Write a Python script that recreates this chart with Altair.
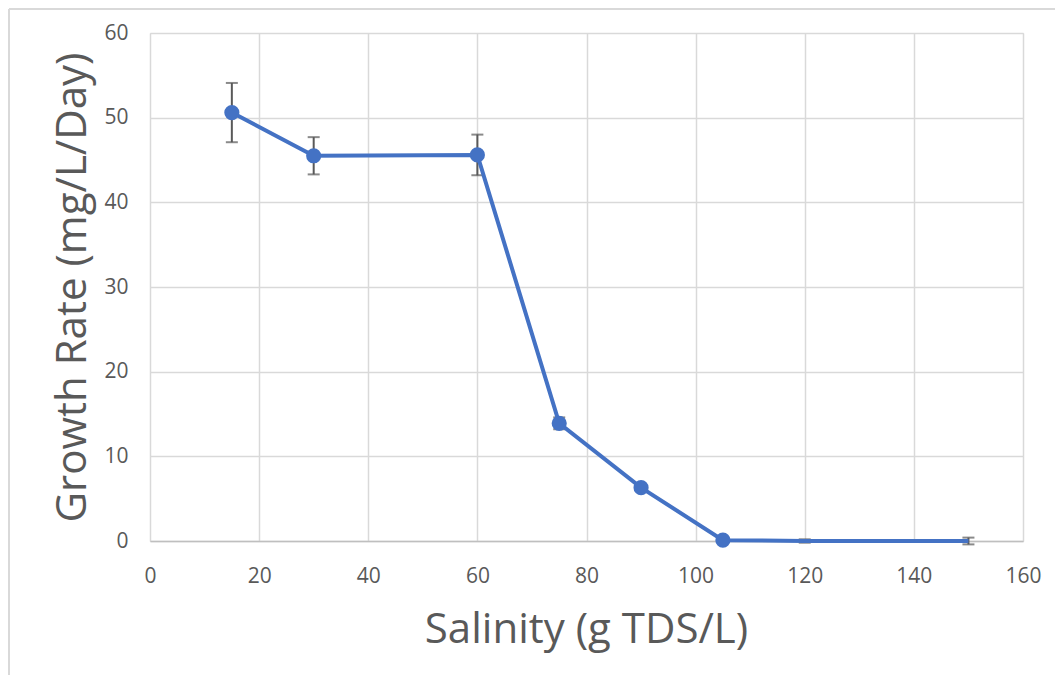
import altair as alt
import pandas as pd

salinity = [15, 30, 60, 75, 90, 105, 120, 150]
growth = [50.6, 45.5, 45.6, 13.9, 6.3, 0.1, 0.0, 0.0]
err = [3.5, 2.2, 2.4, 0.7, 0.0, 0.0, 0.2, 0.4]
marker = [True, True, True, True, True, True, False, False]

df = pd.DataFrame({"s": salinity, "g": growth, "e": err, "m": marker})
df["lo"] = df["g"] - df["e"]
df["hi"] = df["g"] + df["e"]

BLUE = "#4472C4"
FONT = "Open Sans"

xs = alt.Scale(domain=[0, 160], nice=False, zero=False)
ys = alt.Scale(domain=[0, 60], nice=False)

xax = alt.Axis(values=list(range(0, 161, 20)), title="Salinity (g TDS/L)",
               grid=True, gridColor="#d9d9d9", gridWidth=1.5, ticks=False,
               domain=True, domainColor="#bfbfbf", domainWidth=1.5, labelFlush=False,
               labelFont=FONT, labelFontSize=21, labelColor="#595959", labelPadding=24,
               titleFont=FONT, titleFontSize=42, titleFontWeight="normal", titleColor="#595959",
               titleX=436, titleY=88, titleAlign="center", titleBaseline="middle")
yax = alt.Axis(values=list(range(0, 61, 10)), title="Growth Rate (mg/L/Day)",
               grid=True, gridColor="#d9d9d9", gridWidth=1.5, ticks=False, domain=False,
               labelFlush=False,
               labelFont=FONT, labelFontSize=21, labelColor="#595959", labelPadding=22,
               titleFont=FONT, titleFontSize=42, titleFontWeight="normal", titleColor="#595959",
               titleX=-78, titleY=254, titleAlign="center", titleBaseline="middle", titleAngle=270)

base = alt.Chart(df)

frame_top = alt.Chart(pd.DataFrame({"a": [0]})).mark_rule(color="#d9d9d9", strokeWidth=2).encode(
    x=alt.value(-141), x2=alt.value(1200), y=alt.value(-24))
frame_left = alt.Chart(pd.DataFrame({"a": [0]})).mark_rule(color="#d9d9d9", strokeWidth=2).encode(
    x=alt.value(-141), y=alt.value(-24), y2=alt.value(800))

rules = base.mark_rule(color="#595959", strokeWidth=2).encode(
    x=alt.X("s:Q", scale=xs, axis=xax),
    y=alt.Y("lo:Q", scale=ys, axis=yax),
    y2="hi:Q",
).transform_filter("datum.e > 0")

caps_hi = base.mark_tick(color="#595959", thickness=2, size=12, orient="horizontal").encode(
    x=alt.X("s:Q", scale=xs), y=alt.Y("hi:Q", scale=ys)
).transform_filter("datum.e > 0")
caps_lo = base.mark_tick(color="#595959", thickness=2, size=12, orient="horizontal").encode(
    x=alt.X("s:Q", scale=xs), y=alt.Y("lo:Q", scale=ys)
).transform_filter("datum.e > 0")

line = base.mark_line(color=BLUE, strokeWidth=4).encode(
    x=alt.X("s:Q", scale=xs), y=alt.Y("g:Q", scale=ys)
)
points = base.mark_circle(color=BLUE, size=230, opacity=1).encode(
    x=alt.X("s:Q", scale=xs), y=alt.Y("g:Q", scale=ys)
).transform_filter("datum.m")

chart = alt.layer(rules, caps_hi, caps_lo, line, points, frame_top, frame_left).properties(
    width=873, height=508,
    autosize=alt.AutoSizeParams(type="none"),
    padding={"left": 142, "top": 25, "right": 32, "bottom": 134},
).configure_view(stroke=None).configure(background="white")

chart.save("out.html", embed_options={"renderer": "svg", "actions": False})
